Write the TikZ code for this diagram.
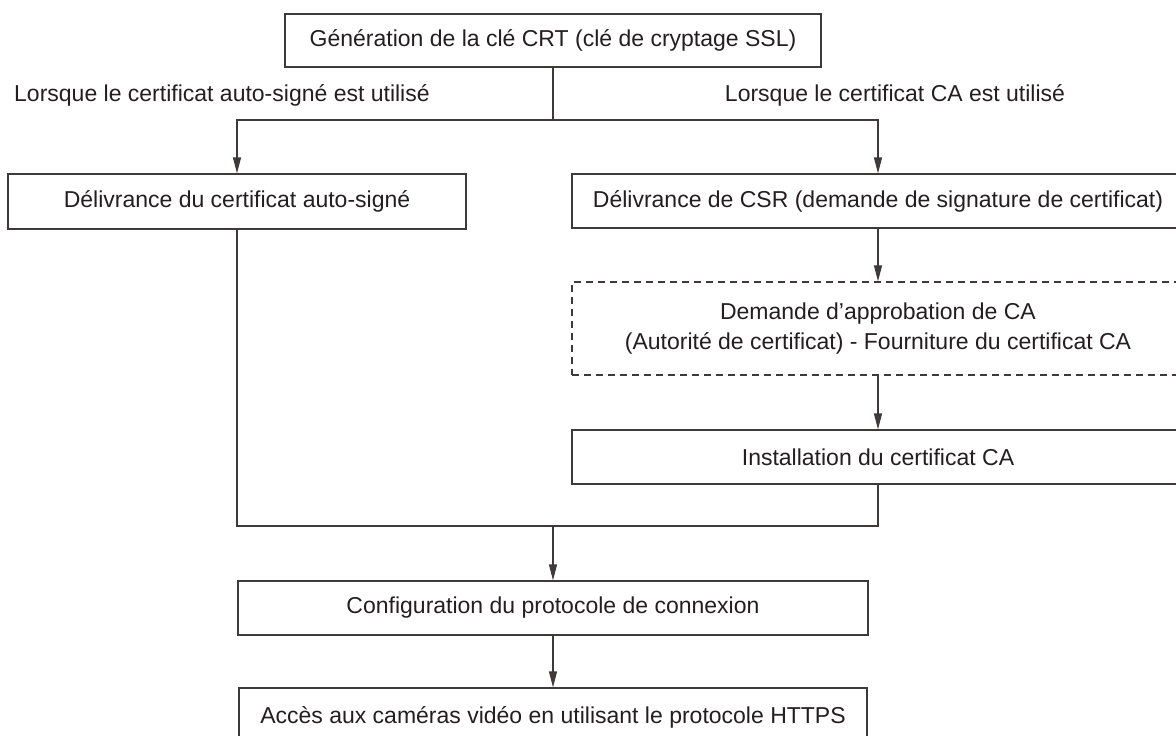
\documentclass[tikz,border=0pt]{standalone}
\usepackage{fontspec}
\setmainfont{Liberation Sans}
\usepackage{tikz}
\usetikzlibrary{positioning,arrows.meta,calc}
\definecolor{ink}{HTML}{231F20}
\definecolor{edge}{HTML}{3E3A39}
\tikzset{
  box/.style={draw=edge,line width=1.3pt,fill=white,inner sep=0pt,text=ink,font=\fontsize{23}{30}\selectfont,align=center},
  note/.style={font=\fontsize{23}{29}\selectfont,text=ink,inner sep=0pt},
  arr/.style={-{Triangle[length=16pt,width=8pt]},line width=1.3pt,edge},
  wire/.style={line width=1.3pt,edge},
}

\begin{document}
\begin{tikzpicture}[x=1pt,y=-1pt]
\useasboundingbox (0,0) rectangle (1176,736);
\clip (0,0) rectangle (1176,736);
\node[box,minimum width=536pt,minimum height=53pt] (gen) at (553,40.5) {Génération de la clé CRT (clé de cryptage SSL)};
\node[note,anchor=west] (lself) at (14,95) {Lorsque le certificat auto-signé est utilisé};
\node[note] (lca) at (895,95) {Lorsque le certificat CA est utilisé};
\node[box,minimum width=458pt,minimum height=55pt] (self) at (237,201.5) {Délivrance du certificat auto-signé};
\node[box,minimum width=612pt,minimum height=54pt] (csr) at (878,201) {Délivrance de CSR (demande de signature de certificat)};
\node[box,dash pattern=on 7pt off 5pt,minimum width=612pt,minimum height=93pt] (appr) at (878,328.5) {Demande d’approbation de CA\\(Autorité de certificat) - Fourniture du certificat CA};
\node[box,minimum width=612pt,minimum height=54pt] (inst) at (878,457) {Installation du certificat CA};
\node[box,minimum width=630pt,minimum height=54pt] (conf) at (553,608) {Configuration du protocole de connexion};
\node[box,minimum width=628pt,minimum height=58pt] (https) at (553,717) {Accès aux caméras vidéo en utilisant le protocole HTTPS};
\coordinate (split) at (553,120);
\coordinate (join) at (553,526);
% branches
\draw[wire] (gen) -- (split);
\draw[arr] (split) -| (self.north);
\draw[arr] (split) -| (csr.north);
\draw[arr] (csr) -- (appr);
\draw[arr] (appr) -- (inst);
% back together
\draw[wire] (self.south) |- (join);
\draw[wire] (inst.south) |- (join);
\draw[arr] (join) -- (conf);
\draw[arr] (conf) -- (https);
\end{tikzpicture}
\end{document}
